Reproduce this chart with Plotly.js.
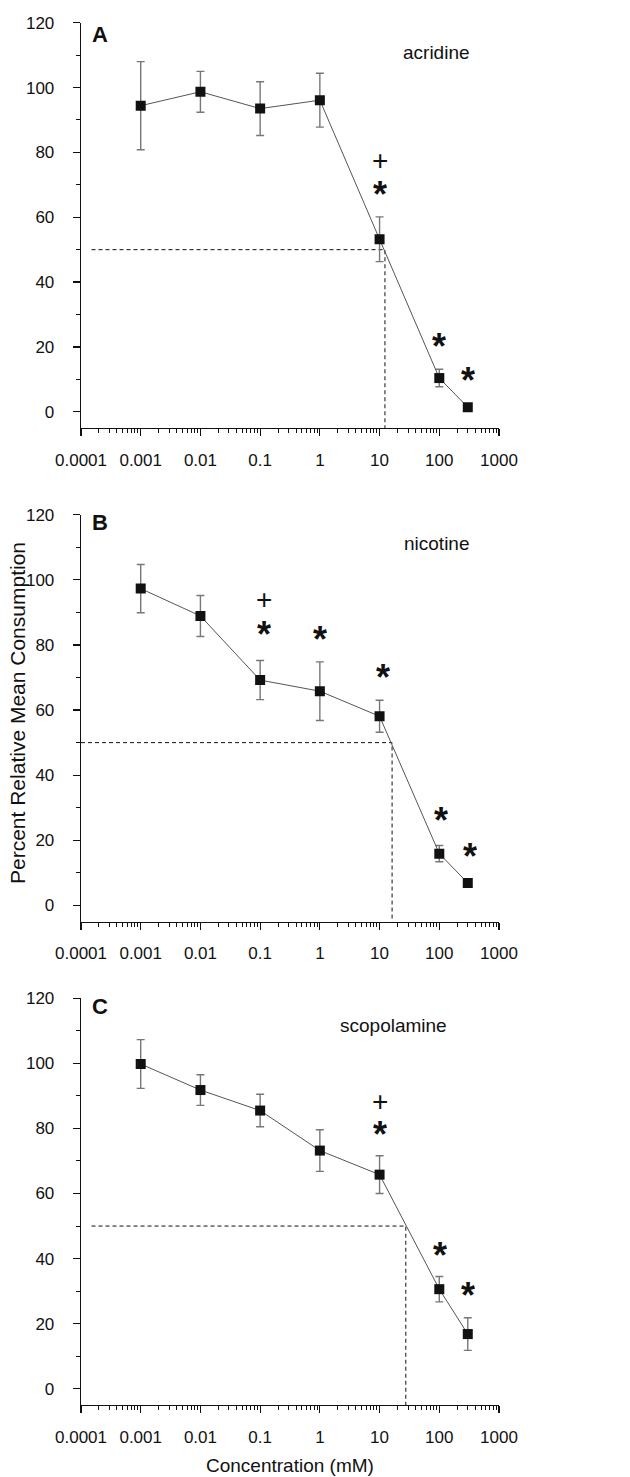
<!DOCTYPE html>
<html>
<head>
<meta charset="utf-8">
<script src="https://cdn.plot.ly/plotly-3.0.1.min.js"></script>
<style>html,body{margin:0;padding:0;background:#fff}#chart{width:630px;height:1477px}</style>
</head>
<body>
<div id="chart"></div>
<script>
// ---- data ----
const conc = [0.001, 0.01, 0.1, 1, 10, 100, 300];
const tickValues = [0.0001, 0.001, 0.01, 0.1, 1, 10, 100, 1000];
const tickLabels = ["0.0001", "0.001", "0.01", "0.1", "1", "10", "100", "1000"];

const panelLetters = ["A", "B", "C"];
const compoundNames = ["acridine", "nicotine", "scopolamine"];

const acridineMean = [94.4, 98.7, 93.5, 96.1, 53.2, 10.4, 1.4];
const acridineErr  = [13.6, 6.3, 8.3, 8.3, 6.9, 2.7, 0];
const nicotineMean = [97.3, 88.9, 69.2, 65.8, 58.1, 15.9, 6.9];
const nicotineErr  = [7.4, 6.3, 6.0, 9.0, 4.9, 2.5, 0.8];
const scopolamineMean = [99.8, 91.8, 85.5, 73.2, 65.8, 30.6, 16.8];
const scopolamineErr  = [7.5, 4.7, 5.0, 6.4, 5.8, 3.9, 5.0];

const halfLevel = 50;
const ec50Values = [12.3, 16.2, 27.5];
const halfLineStart = [0.00015, 0.0001, 0.00015];
const yBottom = -5;

const acridineSigSym = ["+", "*", "*", "*"];
const acridineSigX   = [10, 10, 100, 300];
const acridineSigY   = [77.9, 68.6, 21.7, 11.2];
const nicotineSigSym = ["+", "*", "*", "*", "*", "*"];
const nicotineSigX   = [0.114, 0.114, 1.02, 11.4, 107, 330];
const nicotineSigY   = [94.4, 85.0, 83.3, 71.8, 27.8, 16.6];
const scopolamineSigSym = ["+", "*", "*", "*"];
const scopolamineSigX   = [10, 10, 102, 300];
const scopolamineSigY   = [88.8, 79.8, 42.5, 30.2];

// ---- build ----
const means = [acridineMean, nicotineMean, scopolamineMean];
const errs = [acridineErr, nicotineErr, scopolamineErr];
const sigSyms = [acridineSigSym, nicotineSigSym, scopolamineSigSym];
const sigXs = [acridineSigX, nicotineSigX, scopolamineSigX];
const sigYs = [acridineSigY, nicotineSigY, scopolamineSigY];

const H = 1477;
const FONT = "Liberation Sans, Arial, sans-serif";
const yDomains = [
  [1 - 428 / H, 1 - 22.7 / H],
  [1 - 921.7 / H, 1 - 514.7 / H],
  [1 - 1405 / H, 1 - 998.3 / H]
];
const letterPos = [34, 523, 1006.7];
const namePos = [[436, 52.7], [436.7, 543.3], [393, 1025.7]];

const traces = [];
const annotations = [];
const layout = {
  width: 630, height: H,
  margin: {l: 81, r: 131, t: 0, b: 0},
  paper_bgcolor: "#fff", plot_bgcolor: "#fff",
  showlegend: false,
  font: {family: FONT, color: "#111"}
};

for (let i = 0; i < 3; i++) {
  const s = i === 0 ? "" : String(i + 1);
  const xa = "x" + s, ya = "y" + s;
  // dashed EC50 guide lines
  traces.push({
    x: [halfLineStart[i], ec50Values[i], ec50Values[i]],
    y: [halfLevel, halfLevel, yBottom],
    xaxis: xa, yaxis: ya, mode: "lines", type: "scatter",
    line: {color: "#111", width: 1, dash: "4px,3px"}, hoverinfo: "skip"
  });
  // data
  traces.push({
    x: conc, y: means[i], xaxis: xa, yaxis: ya, type: "scatter", mode: "lines+markers",
    line: {color: "#555", width: 1},
    marker: {symbol: "square", size: 10, color: "#111"},
    error_y: {type: "data", array: errs[i], visible: true, color: "#777", thickness: 1.4, width: 4}
  });
  layout["xaxis" + s] = {
    type: "log", range: [-4, 3], domain: [0, 1], anchor: ya,
    tickmode: "array", tickvals: tickValues, ticktext: tickLabels,
    ticks: "outside", ticklen: 7, tickwidth: 1.2, tickcolor: "#111",
    showline: true, linecolor: "#111", linewidth: 1.3, showgrid: false, zeroline: false,
    tickfont: {family: FONT, size: 17, color: "#111"}, ticklabelstandoff: 9,
    minor: {ticks: "outside", ticklen: 4, dtick: "D1", tickcolor: "#111", tickwidth: 1, showgrid: false}
  };
  layout["yaxis" + s] = {
    range: [-5, 120], domain: yDomains[i], anchor: xa,
    tickvals: [0, 20, 40, 60, 80, 100, 120],
    ticks: "outside", ticklen: 7, tickwidth: 1.2, tickcolor: "#111",
    showline: true, linecolor: "#111", linewidth: 1.3, showgrid: false, zeroline: false,
    tickfont: {family: FONT, size: 17, color: "#111"}, ticklabelstandoff: 15,
    minor: {ticks: "outside", ticklen: 4, dtick: 10, tickcolor: "#111", tickwidth: 1, showgrid: false}
  };
  // panel letter
  annotations.push({
    xref: "paper", yref: "paper", x: (100 - 81) / 418, y: 1 - letterPos[i] / H,
    text: "<b>" + panelLetters[i] + "</b>", showarrow: false, xanchor: "center", yanchor: "middle",
    font: {family: FONT, size: 22, color: "#111"}
  });
  annotations.push({
    xref: "paper", yref: "paper", x: (namePos[i][0] - 81) / 418, y: 1 - namePos[i][1] / H,
    text: compoundNames[i], showarrow: false, xanchor: "center", yanchor: "middle",
    font: {family: FONT, size: 19, color: "#111"}
  });
  // significance marks
  for (let k = 0; k < sigSyms[i].length; k++) {
    const star = sigSyms[i][k] === "*";
    annotations.push({
      xref: xa, yref: ya, x: Math.log10(sigXs[i][k]), y: sigYs[i][k],
      text: star ? "<b>*</b>" : "+", showarrow: false, xanchor: "center", yanchor: "middle",
      yshift: star ? -5 : -1, height: star ? 32 : 24, valign: "middle",
      font: {family: FONT, size: star ? 36 : 28, color: "#111"}
    });
  }
}

annotations.push({
  xref: "paper", yref: "paper", x: (17 - 81) / 418, y: 1 - 713 / H,
  text: "Percent Relative Mean Consumption", textangle: -90, showarrow: false,
  xanchor: "center", yanchor: "middle", font: {family: FONT, size: 21, color: "#111"}
});
annotations.push({
  xref: "paper", yref: "paper", x: 0.5, y: 1 - 1465 / H,
  text: "Concentration (mM)", showarrow: false,
  xanchor: "center", yanchor: "middle", font: {family: FONT, size: 19, color: "#111"}
});
layout.annotations = annotations;

Plotly.newPlot("chart", traces, layout, {staticPlot: true, displayModeBar: false});
</script>
</body>
</html>
